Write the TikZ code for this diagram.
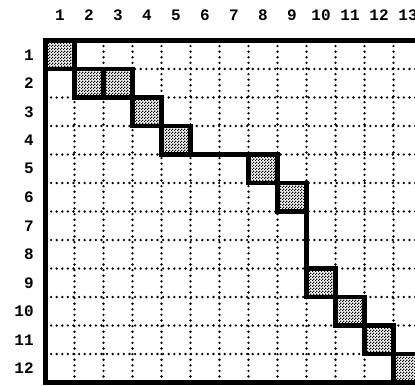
\documentclass[tikz,border=0pt]{standalone}
\usepackage{fontspec}
\setmonofont{Liberation Mono}
\usetikzlibrary{patterns}
\pgfdeclarepatternformonly{checkdots}{\pgfpointorigin}{\pgfpoint{3pt}{3pt}}{\pgfpoint{3pt}{3pt}}{
    \pgfpathrectangle{\pgfpointorigin}{\pgfpoint{1.5pt}{1.5pt}}
    \pgfpathrectangle{\pgfpoint{1.5pt}{1.5pt}}{\pgfpoint{1.5pt}{1.5pt}}
    \pgfusepath{fill}
}
\tikzset{
  gridline/.style={line width=2.6pt, line cap=round, dash pattern=on 0pt off 5.6pt},
  frameline/.style={line width=4.8pt},
  blockcell/.style={draw, line width=4.8pt, outer sep=0pt, pattern=checkdots,
    minimum width=29pt, minimum height=28.5pt, inner sep=0pt},
  idxlabel/.style={font=\ttfamily\bfseries\fontsize{16}{16}\selectfont, inner sep=0pt}
}
\begin{document}
\begin{tikzpicture}[x=29pt, y=-28.5pt]
    \useasboundingbox (-1.569,-1.421) rectangle (12.741,12.088);
    \clip (-1.569,-1.421) rectangle (12.741,12.088);
    \foreach \i in {1,...,12} \draw[gridline] (\i,0) -- (\i,12);
    \foreach \i in {1,...,11} \draw[gridline] (0,\i) -- (13,\i);
    \draw[frameline] (0,0) rectangle (13,12);
    \foreach \r/\c in {1/1,2/2,2/3,3/4,4/5,5/8,6/9,9/10,10/11,11/12,12/13}
        \node[blockcell] (b\r-\c) at (\c-0.5,\r-0.5) {};
    \draw[frameline] (b4-5.south east) -- (b5-8.north west);
    \draw[frameline] (b6-9.south east) -- (b9-10.north west);
    \foreach \c in {1,...,13} \node[idxlabel] (col\c) at (\c-0.5,-0.9) {\c};
    \foreach \r in {1,...,12} \node[idxlabel, anchor=east] (row\r) at (-0.4,\r-0.5) {\r};
\end{tikzpicture}
\end{document}
